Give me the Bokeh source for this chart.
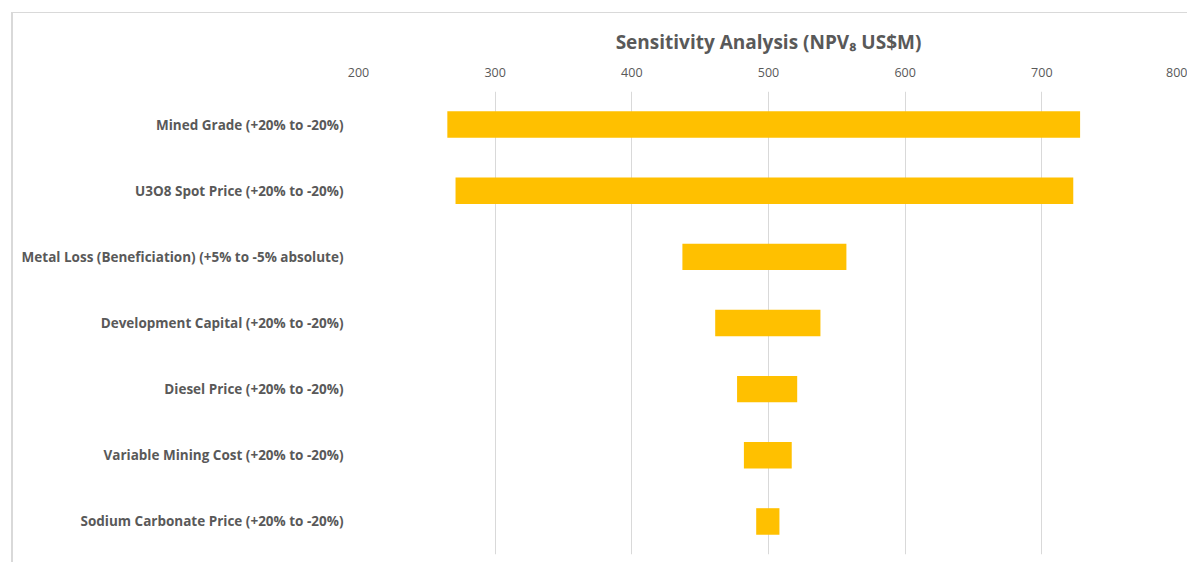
from bokeh.plotting import figure
from bokeh.models import FactorRange, Range1d, FixedTicker
from bokeh.embed import file_html
from bokeh.resources import INLINE

categories = [
    "Mined Grade (+20% to -20%)",
    "U3O8 Spot Price (+20% to -20%)",
    "Metal Loss (Beneficiation) (+5% to -5% absolute)",
    "Development Capital (+20% to -20%)",
    "Diesel Price (+20% to -20%)",
    "Variable Mining Cost (+20% to -20%)",
    "Sodium Carbonate Price (+20% to -20%)",
]
low_values = [265, 271, 437, 461, 477, 482, 491]
high_values = [728, 723, 557, 538, 521, 517, 508]
x_ticks = [200, 300, 400, 500, 600, 700, 800]

FONT = "Open Sans"
GREY = "#595959"

p = figure(
    width=1176, height=550,
    y_range=FactorRange(factors=list(reversed(categories))),
    x_range=Range1d(200, 800),
    x_axis_location="above",
    output_backend="svg", toolbar_location=None,
    title="Sensitivity Analysis (NPV\u2088 US$M)",
    min_border_left=345, min_border_right=11,
    min_border_top=78, min_border_bottom=9,
)
p.styles = {"border-left": "2px solid #d9d9d9", "border-top": "1px solid #d9d9d9",
            "margin-left": "11px", "margin-top": "12px"}

p.hbar(y=categories, left=low_values, right=high_values, height=0.4,
       fill_color="#FFC000", line_color=None)

p.title.align = "center"
p.title.text_font = FONT
p.title.text_font_size = "19px"
p.title.text_font_style = "bold"
p.title.text_color = GREY
p.title.standoff = 20

p.outline_line_color = None
p.ygrid.grid_line_color = None
p.xgrid.grid_line_color = "#d9d9d9"
p.xgrid.grid_line_width = 1
p.xaxis.ticker = FixedTicker(ticks=x_ticks)
p.xaxis.axis_line_color = None
p.xaxis.major_tick_line_color = None
p.xaxis.minor_tick_line_color = None
p.xaxis.major_label_text_font = FONT
p.xaxis.major_label_text_font_size = "12.5px"
p.xaxis.major_label_text_color = GREY
p.xaxis.major_label_standoff = 9

p.yaxis.axis_line_color = None
p.yaxis.major_tick_line_color = None
p.yaxis.major_label_text_font = FONT
p.yaxis.major_label_text_font_size = "13.5px"
p.yaxis.major_label_text_font_style = "bold"
p.yaxis.major_label_text_color = GREY
p.yaxis.major_label_standoff = 9

open("out.html", "w").write(file_html(p, INLINE))
